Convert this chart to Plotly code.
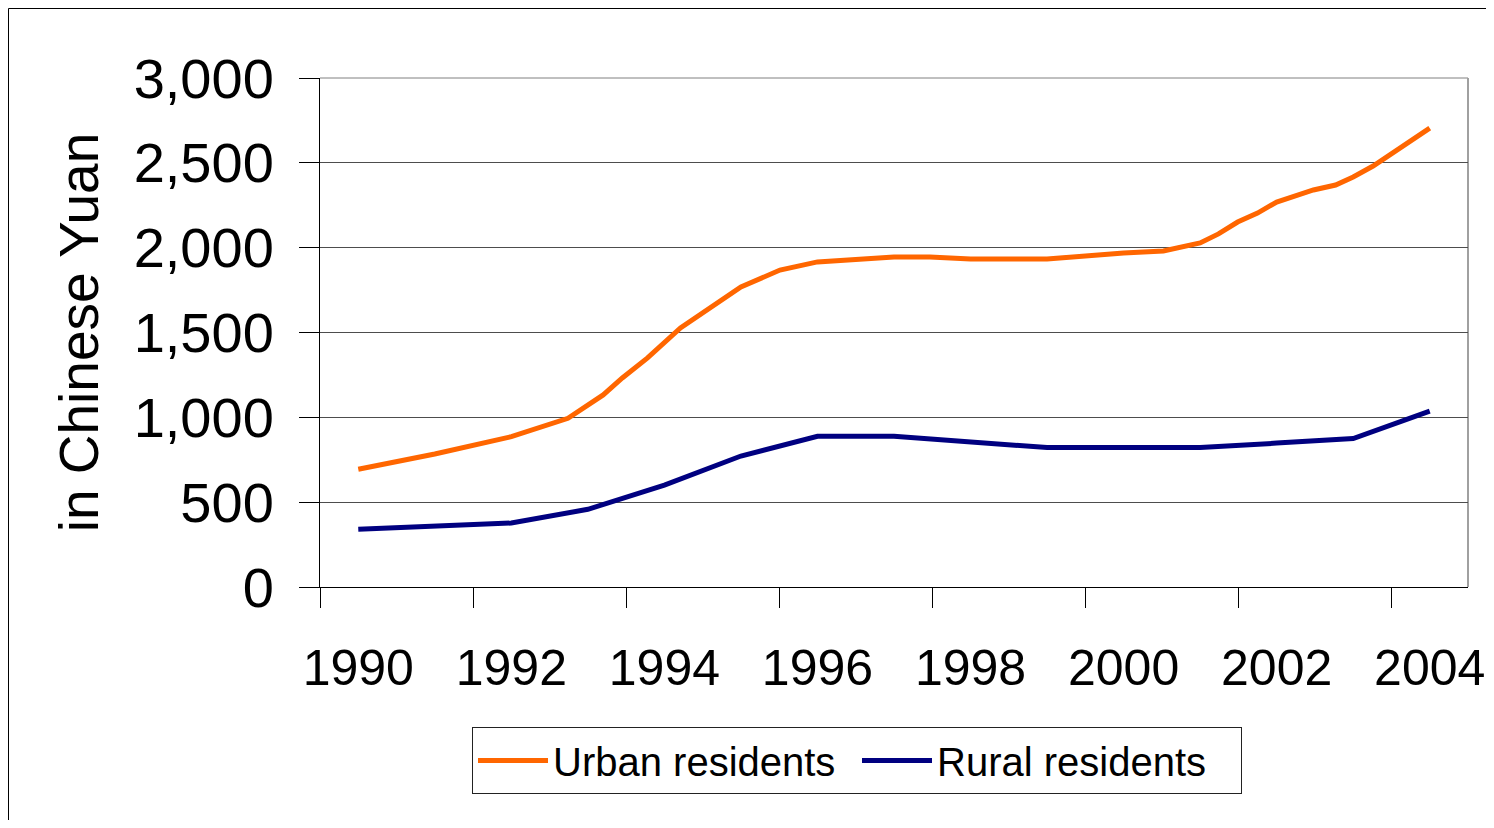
import plotly.graph_objects as go

# ---- data ----
urban_x = [1990, 1991, 1992, 1992.74, 1993.2, 1993.45, 1993.78, 1994.21, 1995, 1995.51,
           1996, 1997, 1997.47, 1998, 1999, 2000, 2000.52, 2001, 2001.24, 2001.49,
           2001.75, 2002, 2002.48, 2002.77, 2003, 2003.26, 2004]
urban_y = [694, 784, 886, 994, 1132, 1232, 1350, 1527, 1768, 1868,
           1916, 1945, 1945, 1933, 1933, 1969, 1980, 2028, 2081, 2151,
           2204, 2269, 2340, 2369, 2417, 2481, 2705]

rural_x = [1990, 1991, 1992, 1993, 1994, 1995, 1996, 1997, 1998, 1999, 2000, 2001, 2002, 2003, 2004]
rural_y = [340, 355, 377, 458, 600, 772, 888, 888, 855, 822, 822, 822, 848, 875, 1037]

year_labels = [1990, 1992, 1994, 1996, 1998, 2000, 2002, 2004]
tick_bounds = [1989.5, 1991.5, 1993.5, 1995.5, 1997.5, 1999.5, 2001.5, 2003.5]
y_ticks = [0, 500, 1000, 1500, 2000, 2500, 3000]

FONT = "Arial, Liberation Sans, sans-serif"

OFF = 8  # page body margin
W, H = 1494 - 2 * OFF, 828 - 2 * OFF
L, T = 320 - OFF, 78 - OFF
PW, PH = 1148, 509
R, B = W - L - PW, H - T - PH


def px_x(sx):
    return (sx - OFF - L) / PW


def px_y(sy):
    return (T + PH - (sy - OFF)) / PH


fig = go.Figure()
fig.add_trace(go.Scatter(x=urban_x, y=urban_y, mode="lines", name="Urban residents",
                         line=dict(color="#FF6600", width=5)))
fig.add_trace(go.Scatter(x=rural_x, y=rural_y, mode="lines", name="Rural residents",
                         line=dict(color="#000080", width=5)))

fig.update_layout(
    width=W, height=H,
    margin=dict(l=L, r=R, t=T, b=B, pad=0, autoexpand=False),
    paper_bgcolor="white", plot_bgcolor="white",
    font=dict(family=FONT, color="black"),
    showlegend=True,
    legend=dict(orientation="h", x=px_x(857), xanchor="center", y=px_y(727), yanchor="top",
                bordercolor="#222222", borderwidth=1, bgcolor="white",
                font=dict(size=40, family=FONT), itemwidth=70, entrywidth=299,
                tracegroupgap=0),
    xaxis=dict(type="linear", range=[1989.5, 2004.5], tickmode="array", tickvals=year_labels,
               ticktext=[str(v) for v in year_labels], ticks="", showgrid=False, zeroline=False,
               showline=True, linecolor="black", linewidth=1,
               automargin=False, ticklabeloverflow="allow",
               tickfont=dict(size=50, family=FONT), ticklabelstandoff=37,
               minor=dict(tickmode="array", tickvals=tick_bounds, ticks="outside", ticklen=20,
                          tickcolor="black", tickwidth=1, showgrid=False)),
    yaxis=dict(range=[0, 3000], tickmode="array", tickvals=y_ticks, tickformat=",d",
               ticks="outside", ticklen=20, tickcolor="black", tickwidth=1,
               showgrid=True, gridcolor="#4d4d4d", gridwidth=1, zeroline=False,
               showline=True, linecolor="black", linewidth=1, automargin=False,
               tickfont=dict(size=56, family=FONT), ticklabelstandoff=14,
               title=dict(text="in Chinese Yuan", font=dict(size=55, family=FONT), standoff=17)),
    shapes=[
        # plot-area frame (top/right in grey)
        dict(type="line", xref="paper", yref="paper", x0=0, x1=1, y0=1, y1=1,
             line=dict(color="#808080", width=1), layer="below"),
        dict(type="line", xref="paper", yref="paper", x0=1, x1=1, y0=0, y1=1,
             line=dict(color="#a0a0a0", width=2), layer="below"),
        # outer chart border (left and top edges of the page frame)
        dict(type="line", xref="paper", yref="paper",
             x0=px_x(8.5), x1=px_x(8.5), y0=px_y(830), y1=px_y(8.5),
             line=dict(color="black", width=1)),
        dict(type="line", xref="paper", yref="paper",
             x0=px_x(8.5), x1=px_x(1500), y0=px_y(8.5), y1=px_y(8.5),
             line=dict(color="black", width=1)),
    ],
)

fig.write_html("out.html")
